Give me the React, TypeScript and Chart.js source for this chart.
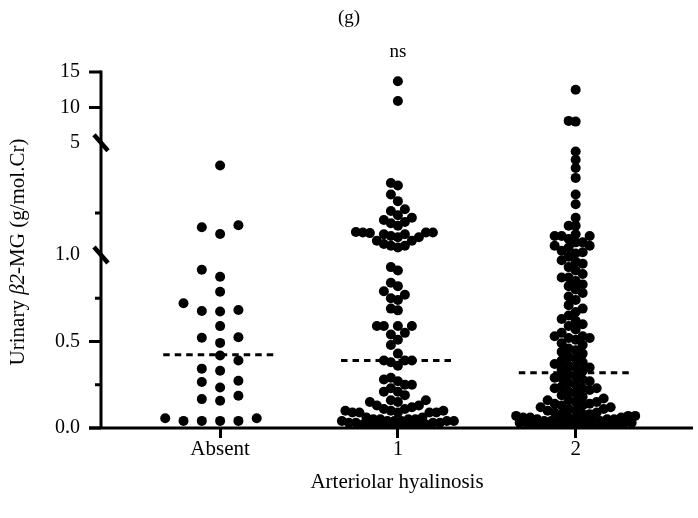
import React, { useEffect, useRef } from 'react';
import { Chart, registerables, LinearScale } from 'chart.js';

Chart.register(...registerables);

// ---- data ----
const groupLabels = ['Absent', '1', '2'];

const absentValues = [
  4.19, 2.06, 1.99, 1.75, 0.915, 0.874, 0.787, 0.721, 0.682, 0.676, 0.673,
  0.589, 0.525, 0.522, 0.492, 0.419, 0.39, 0.343, 0.331, 0.273, 0.266, 0.234,
  0.186, 0.167, 0.157, 0.056, 0.056, 0.041, 0.041, 0.041, 0.041,
];

const grade1Values = [
  13.7, 10.9, 3.57, 3.48, 3.16, 2.92, 2.63, 2.57, 2.42, 2.33, 2.25, 2.18, 2.13,
  2.04, 1.82, 1.8, 1.8, 1.8, 1.78, 1.74, 1.74, 1.68, 1.63, 1.63, 1.51, 1.51,
  1.39, 1.33, 1.33, 1.27,
  0.93, 0.91, 0.84, 0.82, 0.79, 0.77, 0.75, 0.74, 0.69, 0.68, 0.59, 0.59, 0.59,
  0.59, 0.55, 0.54, 0.51, 0.48, 0.43, 0.39, 0.39, 0.39, 0.38, 0.36,
  0.29, 0.28, 0.27, 0.25, 0.25, 0.23, 0.21, 0.21, 0.19, 0.16, 0.16, 0.15, 0.15,
  0.13, 0.13, 0.12, 0.11, 0.11, 0.1, 0.1, 0.1, 0.09, 0.09, 0.09, 0.09, 0.09,
  0.06, 0.06, 0.05, 0.05, 0.05, 0.05, 0.04, 0.04, 0.04, 0.04, 0.04, 0.04, 0.03,
  0.03, 0.03, 0.03, 0.02, 0.02, 0.02, 0.02, 0.02, 0.01, 0.01, 0.01, 0.01, 0.01,
];

const grade2Values = [
  12.5, 8.1, 8.0,
  4.69, 4.4, 4.1, 3.75, 3.16, 2.81, 2.33, 2.04, 2.04, 1.74, 1.68, 1.68, 1.68,
  1.57, 1.45, 1.45, 1.33, 1.33, 1.27, 1.15, 1.1, 1.05,
  0.99, 0.97, 0.96, 0.95, 0.93, 0.91, 0.89, 0.87, 0.87, 0.85, 0.83, 0.82, 0.8,
  0.78, 0.76, 0.74, 0.71, 0.69, 0.67, 0.65, 0.63, 0.62, 0.6, 0.59, 0.57, 0.55,
  0.53, 0.53, 0.52, 0.52, 0.51, 0.49, 0.48, 0.46, 0.45, 0.44, 0.43, 0.41, 0.4,
  0.39, 0.38, 0.37, 0.36, 0.35, 0.35, 0.34, 0.33,
  0.31, 0.3, 0.29, 0.29, 0.28, 0.27, 0.26, 0.25, 0.24, 0.23, 0.23, 0.23, 0.22,
  0.21, 0.2, 0.19, 0.18, 0.17, 0.16, 0.16, 0.15, 0.15, 0.14, 0.14, 0.13, 0.13,
  0.12, 0.12, 0.11, 0.11, 0.1, 0.1, 0.09, 0.09, 0.08, 0.08, 0.08, 0.07, 0.07,
  0.07, 0.06, 0.06, 0.06, 0.06, 0.05, 0.05, 0.05, 0.05, 0.04, 0.04, 0.04, 0.04,
  0.04, 0.04, 0.03, 0.03, 0.03, 0.03, 0.03, 0.03, 0.03, 0.02, 0.02, 0.02, 0.02,
  0.02, 0.02, 0.02, 0.01, 0.01, 0.01, 0.01, 0.01, 0.01,
];

const medianValues = [0.424, 0.39, 0.32];

const yTickValues = [0, 0.25, 0.5, 0.75, 1, 2.5, 5, 10, 15];
const yTickLabels = ['0.0', '', '0.5', '', '1.0', '', '5', '10', '15'];
const yMajorTicks = [0, 0.5, 10, 15];
const yMinorTicks = [0.25, 0.75, 2.5];
const axisBreaks = [1, 5];

// ---- segmented (broken) value axis ----
// each segment maps a value range linearly onto a slice of the axis height
const SEGMENTS = [
  { from: 0, to: 1, start: 0, end: 0.486 },
  { from: 1, to: 5, start: 0.486, end: 0.801 },
  { from: 5, to: 15, start: 0.801, end: 1 },
];

function valueToFraction(v: number): number {
  for (const s of SEGMENTS) {
    if (v <= s.to || s === SEGMENTS[SEGMENTS.length - 1]) {
      return s.start + ((v - s.from) / (s.to - s.from)) * (s.end - s.start);
    }
  }
  return 1;
}

function fractionToValue(f: number): number {
  for (const s of SEGMENTS) {
    if (f <= s.end || s === SEGMENTS[SEGMENTS.length - 1]) {
      return s.from + ((f - s.start) / (s.end - s.start)) * (s.to - s.from);
    }
  }
  return 15;
}

class SegmentedScale extends LinearScale {
  static id = 'segmented';
  static defaults = {};
  buildTicks() {
    return yTickValues.map((value) => ({ value }));
  }
  getPixelForValue(value: number) {
    return this.getPixelForDecimal(valueToFraction(value));
  }
  getValueForPixel(pixel: number) {
    return fractionToValue(this.getDecimalForPixel(pixel));
  }
}
Chart.register(SegmentedScale as any);

const SERIF = "'Liberation Serif', 'DejaVu Serif', serif";

// horizontal packing of the dots in each column
const SWARM = [
  { step: 9.15, dx: 18.3, dy: 12, max: 56 },
  { step: 3.5, dx: 7, dy: 9, max: 58 },
  { step: 3.5, dx: 7, dy: 8, max: 60 },
];

function swarmOffsets(ys: number[], cfg: { step: number; dx: number; dy: number; max: number }) {
  const order = ys.map((_, i) => i).sort((a, b) => ys[b] - ys[a]);
  const placed: { o: number; y: number }[] = [];
  const out: number[] = new Array(ys.length).fill(0);
  const kMax = Math.floor(cfg.max / cfg.step);
  const cands: number[] = [0];
  for (let k = 1; k <= kMax; k++) cands.push(-k * cfg.step, k * cfg.step);
  for (const i of order) {
    const y = ys[i];
    const near = placed.filter((p) => Math.abs(p.y - y) < cfg.dy);
    let best: number | null = null;
    for (const c of cands) {
      if (near.every((p) => Math.abs(p.o - c) >= cfg.dx - 1e-6)) {
        best = c;
        break;
      }
    }
    if (best === null) {
      let bestScore = -1;
      for (const c of cands) {
        let score = Infinity;
        for (const p of near) {
          score = Math.min(score, Math.hypot((p.o - c) / cfg.dx, (p.y - y) / cfg.dy));
        }
        if (score > bestScore + 1e-9) {
          bestScore = score;
          best = c;
        }
      }
    }
    placed.push({ o: best as number, y });
    out[i] = best as number;
  }
  return out;
}

const swarmPlugin = {
  id: 'swarm',
  afterDatasetsUpdate(chart: any) {
    const xScale = chart.scales.x;
    chart.data.datasets.forEach((ds: any, di: number) => {
      if (ds.type === 'line') return;
      const group = ds.group as number;
      const meta = chart.getDatasetMeta(di);
      const cx = xScale.getPixelForValue(group);
      const ys = meta.data.map((el: any) => el.y);
      const offs = swarmOffsets(ys, SWARM[group]);
      meta.data.forEach((el: any, i: number) => {
        el.x = cx + offs[i];
      });
    });
  },
};

const decorPlugin = {
  id: 'decor',
  afterDraw(chart: any) {
    const { ctx, chartArea } = chart;
    const y = chart.scales.y;
    const x = chart.scales.x;
    const ax = chartArea.left;
    ctx.save();
    ctx.strokeStyle = '#000';
    ctx.fillStyle = '#000';
    ctx.lineCap = 'butt';

    // axis lines
    ctx.lineWidth = 3;
    ctx.beginPath();
    ctx.moveTo(ax, chartArea.top - 1.5);
    ctx.lineTo(ax, chartArea.bottom);
    ctx.moveTo(ax - 12, chartArea.bottom);
    ctx.lineTo(chartArea.right, chartArea.bottom);
    ctx.stroke();

    // y ticks
    ctx.beginPath();
    for (const v of yMajorTicks) {
      const py = y.getPixelForValue(v);
      ctx.moveTo(ax - 12, py);
      ctx.lineTo(ax, py);
    }
    for (const v of yMinorTicks) {
      const py = y.getPixelForValue(v);
      ctx.moveTo(ax - 6, py);
      ctx.lineTo(ax, py);
    }
    ctx.stroke();

    // axis break marks
    ctx.lineWidth = 4.5;
    ctx.beginPath();
    for (const v of axisBreaks) {
      const py = y.getPixelForValue(v);
      ctx.moveTo(ax - 7, py - 8);
      ctx.lineTo(ax + 7, py + 8);
    }
    ctx.stroke();

    // titles
    ctx.textAlign = 'center';
    ctx.textBaseline = 'middle';
    ctx.font = `19px ${SERIF}`;
    ctx.fillText('(g)', chart.width / 2, 18);
    ctx.fillText('ns', x.getPixelForValue(1), 52);
    ctx.font = `21px ${SERIF}`;
    ctx.fillText('Arteriolar hyalinosis', (chartArea.left + chartArea.right) / 2, 482);

    // rotated y title with italic beta
    const parts = [
      { t: 'Urinary ', it: false },
      { t: 'β2', it: true },
      { t: '-MG (g/mol.Cr)', it: false },
    ];
    const fontFor = (it: boolean) => `${it ? 'italic ' : ''}21px ${SERIF}`;
    let total = 0;
    const widths = parts.map((p) => {
      ctx.font = fontFor(p.it);
      const w = ctx.measureText(p.t).width;
      total += w;
      return w;
    });
    ctx.translate(18, (chartArea.top + chartArea.bottom) / 2 + 2);
    ctx.rotate(-Math.PI / 2);
    ctx.textAlign = 'left';
    let cur = -total / 2;
    parts.forEach((p, i) => {
      ctx.font = fontFor(p.it);
      ctx.fillText(p.t, cur, 0);
      cur += widths[i];
    });
    ctx.restore();
  },
};

export default function App() {
  const canvasRef = useRef<HTMLCanvasElement | null>(null);

  useEffect(() => {
    const canvas = canvasRef.current;
    if (!canvas) return;
    const groups = [absentValues, grade1Values, grade2Values];
    const pointSets = groups.map((vals, g) => ({
      type: 'scatter' as const,
      group: g,
      data: vals.map((v) => ({ x: g, y: v })),
      pointRadius: 5,
      pointHoverRadius: 5,
      backgroundColor: '#000',
      borderWidth: 0,
      order: 2,
    }));
    const medianSets = medianValues.map((m, g) => ({
      type: 'line' as const,
      data: [
        { x: g - 0.32, y: m },
        { x: g + 0.32, y: m },
      ],
      borderColor: '#000',
      borderWidth: 3,
      borderDash: [6.5, 5],
      pointRadius: 0,
      fill: false,
      order: 1,
    }));

    const chart = new Chart(canvas, {
      type: 'scatter',
      data: { datasets: [...pointSets, ...medianSets] as any },
      options: {
        responsive: false,
        animation: false,
        devicePixelRatio: 1,
        layout: { padding: { top: 72, right: 1, left: 0, bottom: 0 } },
        plugins: {
          legend: { display: false },
          tooltip: { enabled: false },
          title: { display: false },
        },
        scales: {
          x: {
            type: 'linear',
            min: -0.67,
            max: 2.66,
            afterBuildTicks: (s: any) => {
              s.ticks = groupLabels.map((_, i) => ({ value: i }));
            },
            afterFit: (s: any) => {
              s.height = 90;
            },
            border: { display: false },
            grid: {
              display: true,
              drawOnChartArea: false,
              drawTicks: true,
              tickLength: 10,
              tickWidth: 3,
              tickColor: '#000',
              color: 'rgba(0,0,0,0)',
            },
            ticks: {
              autoSkip: false,
              maxRotation: 0,
              padding: -1,
              color: '#000',
              font: { family: SERIF, size: 21 },
              callback: (_v: any, i: number) => groupLabels[i],
            },
          },
          y: {
            type: 'segmented' as any,
            min: 0,
            max: 15,
            afterFit: (s: any) => {
              s.width = 101;
            },
            border: { display: false },
            grid: { display: false, drawTicks: false },
            ticks: {
              autoSkip: false,
              padding: 21,
              color: '#000',
              font: { family: SERIF, size: 20 },
              callback: (_v: any, i: number) => yTickLabels[i],
            },
          },
        },
      },
      plugins: [swarmPlugin, decorPlugin],
    });
    return () => chart.destroy();
  }, []);

  return (
    <div style={{ position: 'absolute', left: 0, top: 0, width: 698, height: 518, background: '#fff' }}>
      <canvas ref={canvasRef} width={698} height={518} style={{ display: 'block' }} />
    </div>
  );
}
